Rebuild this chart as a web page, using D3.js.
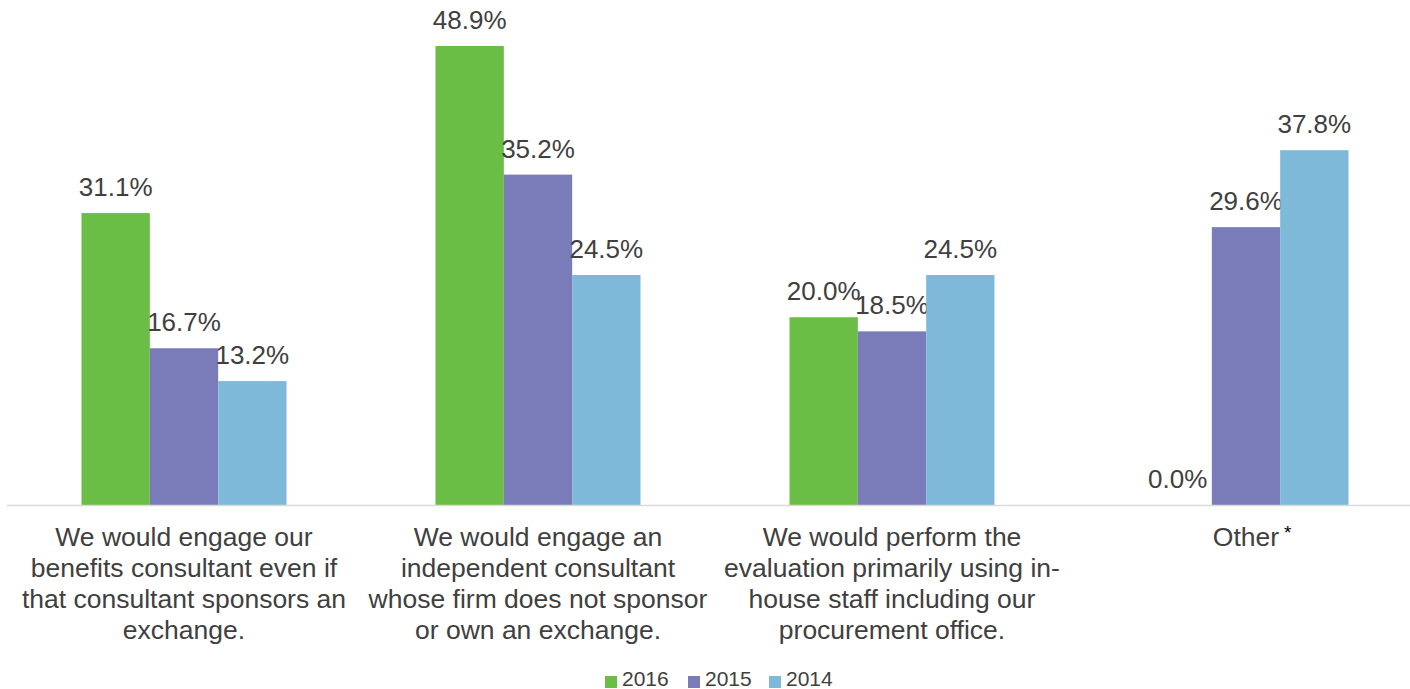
<!DOCTYPE html>
<html>
<head>
<meta charset="utf-8">
<script src="https://cdn.jsdelivr.net/npm/d3@7"></script>
<style>
  html, body { margin: 0; padding: 0; background: #fff; }
  svg { display: block; font-family: "Liberation Sans", Arial, sans-serif; }
</style>
</head>
<body>
<svg id="chart" width="1410" height="689"></svg>
<script>
// Survey responses by year
const categories = [
  ["We would engage our", "benefits consultant even if", "that consultant sponsors an", "exchange."],
  ["We would engage an", "independent consultant", "whose firm does not sponsor", "or own an exchange."],
  ["We would perform the", "evaluation primarily using in-", "house staff including our", "procurement office."],
  ["Other"]
];
const seriesNames = ["2016", "2015", "2014"];
const values2016 = [31.1, 48.9, 20.0, 0.0];
const values2015 = [16.7, 35.2, 18.5, 29.6];
const values2014 = [13.2, 24.5, 24.5, 37.8];
const seriesColors = ["#6abd45", "#7a7cba", "#7fb9d9"];

const series = [values2016, values2015, values2014];
const svg = d3.select("#chart");
const textColor = "#404040";

const baseY = 505;
const x0 = d3.scaleBand().domain(d3.range(categories.length)).range([7, 1423]).paddingInner(0).paddingOuter(0);
const groupW = 205;
const x1 = d3.scaleBand().domain(d3.range(seriesNames.length)).range([0, groupW]);
const y = d3.scaleLinear().domain([0, 48.9]).range([baseY, 46]);

const groups = svg.selectAll("g.cat").data(categories).join("g")
  .attr("class", "cat")
  .attr("transform", (d, i) => `translate(${x0(i) + (x0.bandwidth() - groupW) / 2},0)`);

groups.each(function (cat, ci) {
  const g = d3.select(this);
  series.forEach((vals, si) => {
    const v = vals[ci];
    g.append("rect")
      .attr("x", x1(si))
      .attr("width", x1.bandwidth())
      .attr("y", y(v))
      .attr("height", baseY - y(v))
      .attr("fill", seriesColors[si]);
    g.append("text")
      .attr("x", x1(si) + x1.bandwidth() / 2)
      .attr("y", y(v) - 17)
      .attr("text-anchor", "middle")
      .attr("font-size", 26)
      .attr("fill", textColor)
      .text(v.toFixed(1) + "%");
  });
});

// baseline axis
svg.append("line")
  .attr("x1", 7).attr("x2", 1410)
  .attr("y1", baseY + 0.5).attr("y2", baseY + 0.5)
  .attr("stroke", "#d9d9d9").attr("stroke-width", 1.5);

// category labels
categories.forEach((lines, ci) => {
  const cx = x0(ci) + x0.bandwidth() / 2;
  const t = svg.append("text")
    .attr("text-anchor", "middle")
    .attr("font-size", 26.5)
    .attr("fill", textColor);
  lines.forEach((ln, li) => {
    t.append("tspan").attr("x", cx).attr("y", 546 + li * 31).text(ln);
  });
  if (lines.length === 1) {
    svg.append("text")
      .attr("x", cx + 38).attr("y", 539)
      .attr("font-size", 19)
      .attr("fill", "#000")
      .text("*");
  }
});

// legend
const legendX = [605, 688, 769];
seriesNames.forEach((name, i) => {
  svg.append("rect")
    .attr("x", legendX[i]).attr("y", 676)
    .attr("width", 12).attr("height", 12)
    .attr("fill", seriesColors[i]);
  svg.append("text")
    .attr("x", legendX[i] + 17).attr("y", 686)
    .attr("font-size", 21)
    .attr("fill", textColor)
    .text(name);
});
</script>
</body>
</html>
